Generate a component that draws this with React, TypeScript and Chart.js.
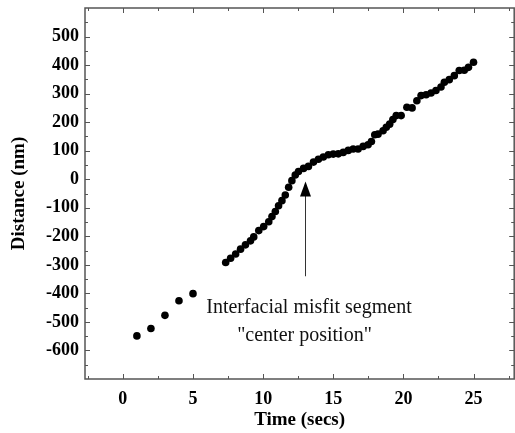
import React, { useEffect, useRef } from "react";
import { Chart, registerables } from "chart.js";

Chart.register(...registerables);

// ---- data ----
const EARLY_TIME = [1, 2, 3, 4, 5];
const EARLY_DIST = [-549, -523, -477, -426, -401];

const MAIN_TIME = [
  7.33, 7.68, 8.04, 8.39, 8.74, 9.1, 9.33, 9.69, 10.04, 10.4, 10.63, 10.87, 11.1, 11.34, 11.58,
  11.82, 12.05, 12.29, 12.52, 12.88, 13.23, 13.59, 13.94, 14.29, 14.65, 15.0, 15.36, 15.71,
  16.07, 16.42, 16.77, 17.13, 17.48, 17.72, 17.96, 18.19, 18.55, 18.78, 19.02, 19.25, 19.49,
  19.84, 20.25, 20.62, 20.96, 21.26, 21.62, 21.97, 22.32, 22.68, 22.92, 23.27, 23.63, 23.98,
  24.34, 24.64, 25.0,
];
const MAIN_DIST = [
  -292, -277, -262, -245, -230, -216, -202, -180, -166, -149, -131, -113, -93, -75, -55,
  -28, -5, 15, 27, 38, 45, 60, 70, 78, 86, 88, 89, 94,
  101, 106, 106, 115, 121, 132, 156, 158, 170, 182, 193, 209, 223,
  223, 252, 250, 275, 293, 296, 302, 311, 323, 340, 349, 363, 381,
  382, 392, 410,
];

const X_MIN = -2.7;
const X_MAX = 27.9;
const Y_MIN = -700;
const Y_MAX = 600;
const X_MAJOR = [0, 5, 10, 15, 20, 25];
const X_MINOR = [-2.5, 2.5, 7.5, 12.5, 17.5, 22.5, 27.5];
const Y_MAJOR = [-600, -500, -400, -300, -200, -100, 0, 100, 200, 300, 400, 500];
const Y_MINOR = [-650, -550, -450, -350, -250, -150, -50, 50, 150, 250, 350, 450, 550];

const ARROW_X = 13;
const ARROW_TAIL = -340;
const ARROW_TIP = -8;
const NOTE_LINES = ["Interfacial misfit segment", "\"center position\""];
const NOTE_X = [13.27, 12.95];
const NOTE_Y = [-452, -550];

const SERIF = "'Liberation Serif', 'Times New Roman', serif";
const FRAME = "#555";

const framePlugin = {
  id: "frame",
  afterDraw(chart: any) {
    const { ctx, chartArea: a, scales } = chart;
    const xs = scales.x;
    const ys = scales.y;
    ctx.save();
    ctx.strokeStyle = FRAME;
    ctx.lineWidth = 1.5;
    ctx.strokeRect(a.left, a.top, a.right - a.left, a.bottom - a.top);
    ctx.lineWidth = 1;
    const tick = (vals: number[], len: number, horiz: boolean) => {
      for (const v of vals) {
        if (horiz) {
          const p = Math.round(xs.getPixelForValue(v)) + 0.5;
          if (p < a.left || p > a.right) continue;
          ctx.beginPath();
          ctx.moveTo(p, a.bottom);
          ctx.lineTo(p, a.bottom - len);
          ctx.moveTo(p, a.top);
          ctx.lineTo(p, a.top + len);
          ctx.stroke();
        } else {
          const p = Math.round(ys.getPixelForValue(v)) + 0.5;
          if (p < a.top || p > a.bottom) continue;
          ctx.beginPath();
          ctx.moveTo(a.left, p);
          ctx.lineTo(a.left + len, p);
          ctx.moveTo(a.right, p);
          ctx.lineTo(a.right - len, p);
          ctx.stroke();
        }
      }
    };
    tick(X_MAJOR, 5, true);
    tick(X_MINOR, 3, true);
    tick(Y_MAJOR, 5, false);
    tick(Y_MINOR, 3, false);

    // arrow
    const ax = Math.round(xs.getPixelForValue(ARROW_X)) + 0.5;
    const tail = ys.getPixelForValue(ARROW_TAIL);
    const tip = ys.getPixelForValue(ARROW_TIP);
    ctx.strokeStyle = "#333";
    ctx.lineWidth = 1;
    ctx.beginPath();
    ctx.moveTo(ax, tail);
    ctx.lineTo(ax, tip + 14);
    ctx.stroke();
    ctx.fillStyle = "#000";
    ctx.beginPath();
    ctx.moveTo(ax, tip);
    ctx.lineTo(ax - 5.5, tip + 15);
    ctx.lineTo(ax + 5.5, tip + 15);
    ctx.closePath();
    ctx.fill();

    // note text
    ctx.fillStyle = "#111";
    ctx.font = `20px ${SERIF}`;
    ctx.textAlign = "center";
    ctx.textBaseline = "middle";
    NOTE_LINES.forEach((t, i) => {
      ctx.fillText(t, xs.getPixelForValue(NOTE_X[i]), ys.getPixelForValue(NOTE_Y[i]));
    });
    ctx.restore();
  },
};

export default function App() {
  const ref = useRef<HTMLCanvasElement>(null);
  useEffect(() => {
    if (!ref.current) return;
    const points = [
      ...EARLY_TIME.map((t, i) => ({ x: t, y: EARLY_DIST[i] })),
      ...MAIN_TIME.map((t, i) => ({ x: t, y: MAIN_DIST[i] })),
    ];
    const chart = new Chart(ref.current, {
      type: "scatter",
      data: {
        datasets: [
          {
            data: points,
            backgroundColor: "#000",
            borderWidth: 0,
            pointRadius: 3.8,
            pointHoverRadius: 3.8,
          },
        ],
      },
      options: {
        animation: false,
        responsive: false,
        devicePixelRatio: 1,
        layout: { padding: { top: 8, right: 1, left: 0, bottom: 0 } },
        plugins: { legend: { display: false }, tooltip: { enabled: false } },
        scales: {
          x: {
            type: "linear",
            min: X_MIN,
            max: X_MAX,
            grid: { display: false, drawTicks: false },
            border: { display: false },
            ticks: {
              stepSize: 5,
              includeBounds: false,
              padding: 10,
              color: "#000",
              maxRotation: 0,
              autoSkip: false,
              font: { family: SERIF, size: 18, weight: "bold" },
            },
            title: {
              display: true,
              text: "Time (secs)",
              color: "#000",
              font: { family: SERIF, size: 19, weight: "bold" },
              padding: { top: 0, bottom: 2 },
            },
            afterFit: (s: any) => {
              s.height = 54;
            },
          },
          y: {
            type: "linear",
            min: Y_MIN,
            max: Y_MAX,
            grid: { display: false, drawTicks: false },
            border: { display: false },
            ticks: {
              stepSize: 100,
              padding: 6,
              color: "#000",
              autoSkip: false,
              font: { family: SERIF, size: 18, weight: "bold" },
              callback: (v: any) => (v < -600 || v > 500 ? "" : String(v)),
            },
            title: {
              display: true,
              text: "Distance (nm)",
              color: "#000",
              font: { family: SERIF, size: 19, weight: "bold" },
              padding: { top: 8, bottom: 0 },
            },
            afterFit: (s: any) => {
              s.width = 85;
              s.paddingTop = 0;
            },
          },
        },
      } as any,
      plugins: [framePlugin],
    });
    return () => chart.destroy();
  }, []);
  return (
    <div
      style={{
        position: "absolute",
        left: 0,
        top: 0,
        width: 515,
        height: 433,
        overflow: "hidden",
        background: "#fff",
      }}
    >
      <canvas ref={ref} width={518} height={433} style={{ width: 518, height: 433, display: "block" }} />
    </div>
  );
}
